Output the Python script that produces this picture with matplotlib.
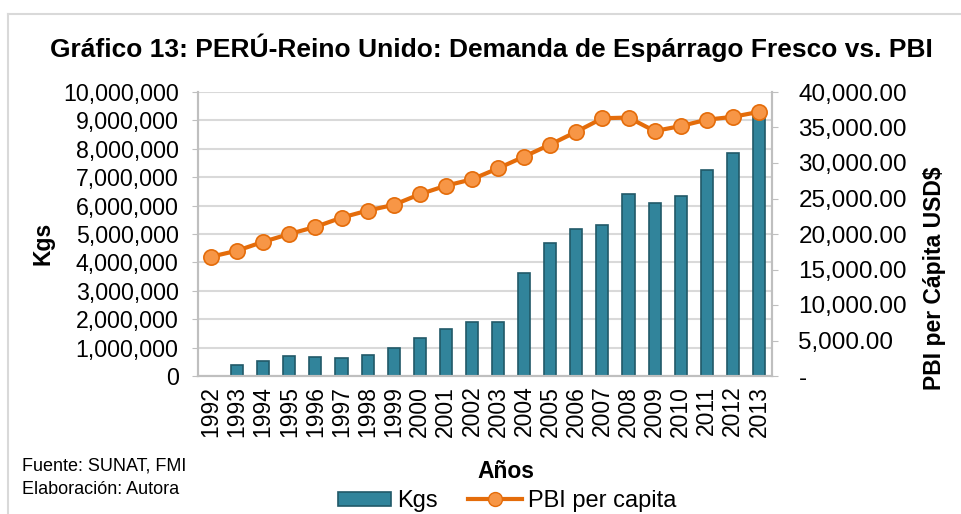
import matplotlib
matplotlib.use("Agg")
import matplotlib.pyplot as plt
import numpy as np
from matplotlib.ticker import FuncFormatter, MultipleLocator
from matplotlib.lines import Line2D
from matplotlib.patches import Patch

plt.rcParams['font.family'] = ['Liberation Sans', 'DejaVu Sans']

years = [str(y) for y in range(1992, 2014)]
kgs = [0, 390000, 530000, 700000, 660000, 650000, 740000, 1000000, 1340000,
       1640000, 1890000, 1890000, 3640000, 4680000, 5180000, 5320000, 6400000,
       6080000, 6340000, 7250000, 7860000, 9190000]
pbi = [16800, 17650, 18900, 20000, 21000, 22300, 23300, 24100, 25600, 26800,
       27700, 29250, 30900, 32600, 34400, 36300, 36400, 34500, 35200, 36100,
       36500, 37200]

bar_color = "#31849B"
bar_edge = "#215968"
line_color = "#E46C0A"
marker_face = "#F79646"
grid_color = "#D9D9D9"
axis_color = "#BFBFBF"

fig = plt.figure(figsize=(9.61, 5.14), dpi=100)
ax = fig.add_axes([198/961, 1-376/514, (772-198)/961, (376-92)/514])
ax2 = ax.twinx()

x = np.arange(len(years))
ax.bar(x, kgs, width=0.46, color=bar_color, edgecolor=bar_edge, linewidth=1.2, zorder=2)
ax2.plot(x, pbi, color=line_color, linewidth=3, marker='o', markersize=11,
         markerfacecolor=marker_face, markeredgecolor=line_color, markeredgewidth=1.2, zorder=3)

ax.set_xlim(-0.5, len(years)-0.5)
ax.set_ylim(0, 10000000)
ax2.set_ylim(0, 40000)
ax.yaxis.set_major_locator(MultipleLocator(1000000))
ax2.yaxis.set_major_locator(MultipleLocator(5000))
ax.yaxis.set_major_formatter(FuncFormatter(lambda v, p: "{:,.0f}".format(v)))
ax2.yaxis.set_major_formatter(FuncFormatter(lambda v, p: "-" if v == 0 else "{:,.2f}".format(v)))

ax.set_xticks(x)
ax.set_xticklabels(years, rotation=90, fontsize=16.5)
ax.tick_params(axis='x', length=0, pad=7)
ax.tick_params(axis='y', labelsize=16.7, length=4, color=axis_color, pad=10)
ax2.tick_params(axis='y', labelsize=17.5, length=4, color=axis_color, pad=15)
for lbl in ax2.get_yticklabels():
    lbl.set_horizontalalignment('left')

ax.grid(axis='y', color=grid_color, linewidth=1.5, zorder=0)
ax.set_axisbelow(True)
for a in (ax, ax2):
    a.spines['top'].set_visible(False)
    for s in ('left', 'right', 'bottom'):
        a.spines[s].set_color(axis_color)
        a.spines[s].set_linewidth(1.5)

fig.text(491/961, 1-48/514, "Gráfico 13: PERÚ-Reino Unido: Demanda de Espárrago Fresco vs. PBI",
         ha='center', va='center', fontsize=19, fontweight='bold')
fig.text(43/961, 1-243/514, "Kgs", rotation=90, ha='center', va='center', fontsize=16.5, fontweight='bold')
fig.text(935/961, 1-278/514, "PBI per Cápita USD$", rotation=90, ha='center', va='center',
         fontsize=16.5, fontweight='bold')
fig.text(506/961, 1-472/514, "Años", ha='center', va='center', fontsize=16.5, fontweight='bold')

foot_font = ['Liberation Sans Narrow', 'Liberation Sans']
fig.text(22/961, 1-466/514, "Fuente: SUNAT, FMI", ha='left', va='center', fontsize=13, family=foot_font)
fig.text(22/961, 1-490/514, "Elaboración: Autora", ha='left', va='center', fontsize=13, family=foot_font)

handles = [Patch(facecolor=bar_color, edgecolor=bar_edge, linewidth=1.2),
           Line2D([0], [0], color=line_color, linewidth=3, marker='o', markersize=10,
                  markerfacecolor=marker_face, markeredgecolor=line_color)]
fig.legend(handles, ["Kgs", "PBI per capita"], loc='center', bbox_to_anchor=(507/961, 1-501/514),
           ncol=2, frameon=False, fontsize=17, handlelength=2.25, handleheight=0.55,
           handletextpad=0.25, columnspacing=1.3, borderpad=0)

# outer chart border (top and left edges visible)
fig.add_artist(Line2D([8/961, 1], [1-14/514, 1-14/514], color="#D9D9D9", linewidth=1.5))
fig.add_artist(Line2D([8/961, 8/961], [0, 1-14/514], color="#D9D9D9", linewidth=1.5))

fig.savefig("out.png", dpi=100)
